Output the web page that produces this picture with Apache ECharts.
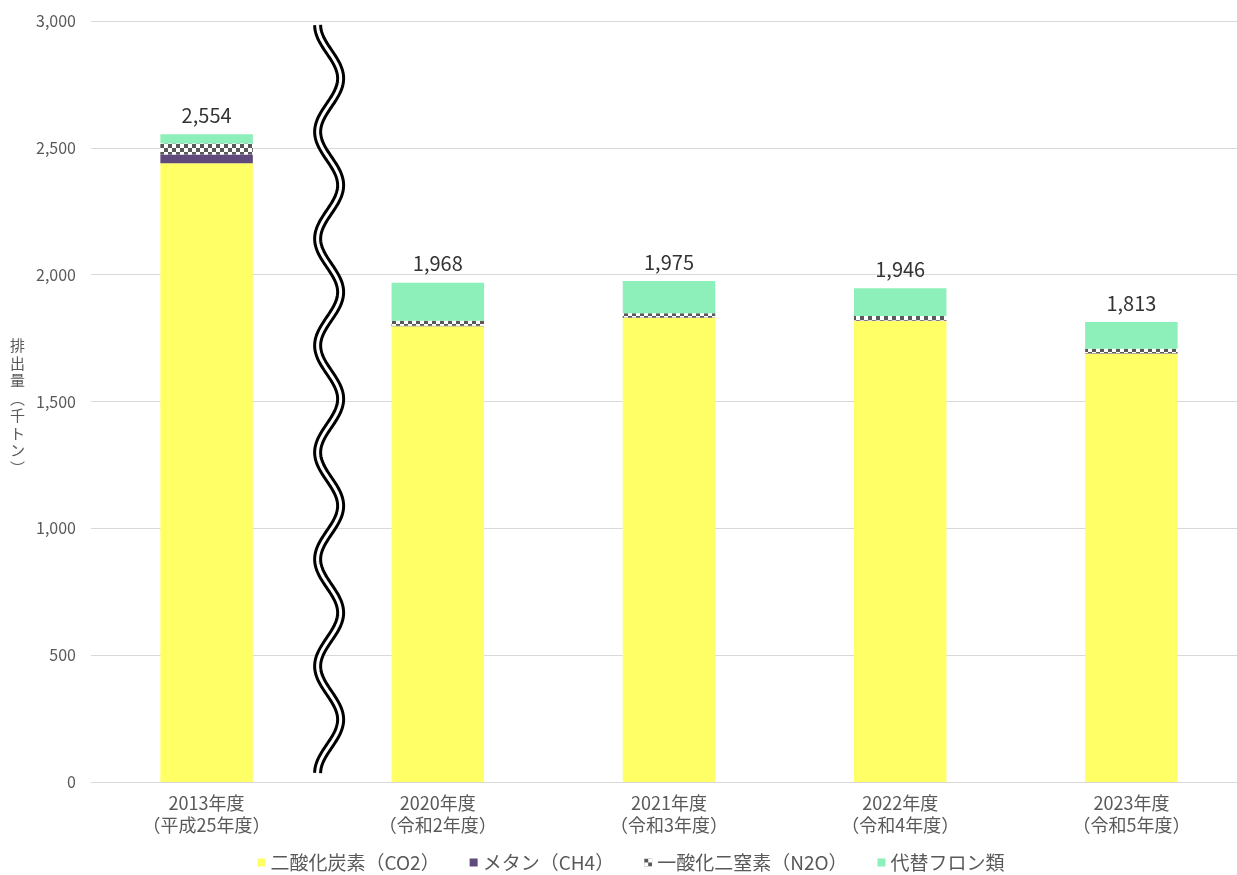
<!DOCTYPE html>
<html>
<head>
<meta charset="utf-8">
<script src="https://cdn.jsdelivr.net/npm/echarts@6/dist/echarts.min.js"></script>
<style>
html,body{margin:0;padding:0;background:#fff;overflow:hidden;}
#main{width:1262px;height:875px;}
</style>
</head>
<body>
<div id="main"></div>
<script>
const categories = ['2013年度\n（平成25年度）','2020年度\n（令和2年度）','2021年度\n（令和3年度）','2022年度\n（令和4年度）','2023年度\n（令和5年度）'];
const co2 = [2439, 1797, 1829, 1817, 1689];
const ch4 = [35, 2, 2, 2, 2];
const n2o = [43, 19, 17, 18, 17];
const hfc = [37, 150, 127, 109, 105];
const totals = [2554, 1968, 1975, 1946, 1813];
const seriesNames = ['二酸化炭素（CO2）','メタン（CH4）','一酸化二窒素（N2O）','代替フロン類'];
const yTicks = [0, 500, 1000, 1500, 2000, 2500, 3000];

const FONT = '"Noto Sans CJK JP", "Noto Sans", sans-serif';

// checker pattern for N2O
const pc = document.createElement('canvas');
pc.width = 8; pc.height = 8;
const pctx = pc.getContext('2d');
pctx.fillStyle = '#ffffff'; pctx.fillRect(0,0,8,8);
pctx.fillStyle = '#595959';
pctx.fillRect(0,0,4,4); pctx.fillRect(4,4,4,4);
const checker = {image: pc, repeat: 'repeat'};

const chart = echarts.init(document.getElementById('main'));
const option = {
  animation: false,
  textStyle: {fontFamily: FONT},
  grid: {left: 91, top: 21, width: 1156, bottom: 93, containLabel: false},
  legend: {
    top: 848,
    left: 'center',
    itemWidth: 8, itemHeight: 8, itemGap: 30,
    icon: 'rect',
    textStyle: {fontSize: 19, color: '#595959', fontFamily: FONT},
    data: seriesNames
  },
  xAxis: {
    type: 'category',
    data: categories,
    axisTick: {show: false},
    axisLine: {lineStyle: {color: '#d9d9d9'}},
    axisLabel: {color: '#595959', fontSize: 18, lineHeight: 22, margin: 10, fontFamily: FONT}
  },
  yAxis: {
    type: 'value',
    min: 0, max: 3000, interval: 500,
    axisLine: {show: false},
    axisTick: {show: false},
    splitLine: {lineStyle: {color: '#d9d9d9'}},
    axisLabel: {color: '#595959', fontSize: 16, margin: 15, fontFamily: FONT,
      formatter: v => yTicks.includes(v) ? v.toLocaleString('en-US') : ''}
  },
  series: [
    {name: seriesNames[0], type: 'bar', stack: 'g', data: co2, barWidth: '40%', itemStyle: {color: '#FFFF66'}},
    {name: seriesNames[1], type: 'bar', stack: 'g', data: ch4, itemStyle: {color: '#604A7B'}},
    {name: seriesNames[2], type: 'bar', stack: 'g', data: n2o, itemStyle: {color: checker}},
    {name: seriesNames[3], type: 'bar', stack: 'g', data: hfc, itemStyle: {color: '#8DEFB9'},
      label: {show: true, position: 'top', distance: 9, fontSize: 20, color: '#333333', fontFamily: FONT,
        formatter: p => totals[p.dataIndex].toLocaleString('en-US')}}
  ]
};
chart.setOption(option);

// axis break wave + vertical axis title
const x0 = chart.convertToPixel({xAxisIndex: 0}, 0);
const x1 = chart.convertToPixel({xAxisIndex: 0}, 1);
const cx = x0 + (x1 - x0) * 0.53;
const yTop = chart.convertToPixel({yAxisIndex: 0}, 3000) + 4;
const yBot = chart.convertToPixel({yAxisIndex: 0}, 0) - 9;
const pts = [];
const N = 400, A = 11.5, periods = 7;
for (let i = 0; i <= N; i++) {
  const t = i / N;
  pts.push([cx - A * Math.cos(2 * Math.PI * periods * t), yTop + (yBot - yTop) * t]);
}
chart.setOption({
  graphic: [
    {type: 'polyline', shape: {points: pts}, style: {stroke: '#000', lineWidth: 9, fill: null}, z: 100},
    {type: 'polyline', shape: {points: pts}, style: {stroke: '#fff', lineWidth: 3, fill: null}, z: 101},
    {type: 'text', left: 10, top: 337, z: 100,
      style: {text: '排\n出\n量\n︵\n千\nト\nン\n︶', fontSize: 15, lineHeight: 17.5, fill: '#595959', fontFamily: FONT, align: 'center'}}
  ]
});
</script>
</body>
</html>
